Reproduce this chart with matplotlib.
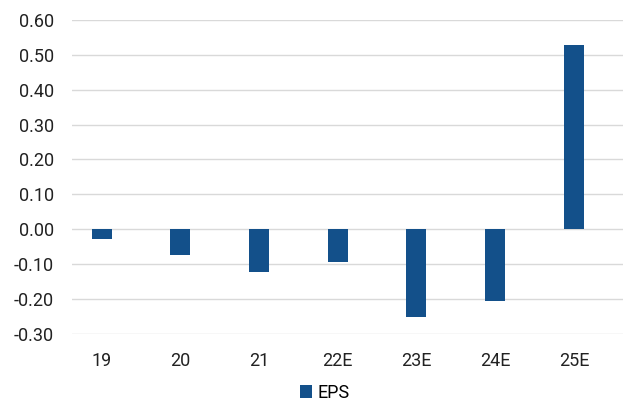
import matplotlib.pyplot as plt
import numpy as np
from matplotlib.patches import Patch

plt.rcParams['font.family'] = ['Roboto', 'DejaVu Sans']

categories = ["19", "20", "21", "22E", "23E", "24E", "25E"]
eps = [-0.028, -0.074, -0.123, -0.094, -0.252, -0.207, 0.528]
yticks = [-0.3, -0.2, -0.1, 0.0, 0.1, 0.2, 0.3, 0.4, 0.5, 0.6]

bar_color = "#13508A"

fig = plt.figure(figsize=(6.28, 4.03), dpi=100)
ax = fig.add_axes([0.1146, 0.172, 0.877, 0.7786])

x = np.arange(len(categories))
ax.bar(x, eps, width=0.254, color=bar_color, zorder=3)

ax.set_xlim(-0.377, 6.62)
ax.set_ylim(-0.3, 0.6)
ax.set_yticks(yticks)
ax.set_yticklabels([f"{v:.2f}" for v in yticks])
ax.set_xticks(x)
ax.set_xticklabels(categories)
ax.tick_params(axis='both', length=0, labelsize=13, colors="#222222")
ax.tick_params(axis='y', pad=13)
ax.tick_params(axis='x', pad=13)

ax.grid(axis='y', color="#D9D9D9", linewidth=1.0, zorder=0)
for s in ax.spines.values():
    s.set_visible(False)

handle = Patch(facecolor=bar_color, edgecolor='none')
fig.legend([handle], ["EPS"], loc='center', bbox_to_anchor=(0.517, 0.025),
           frameon=False, fontsize=13, handlelength=0.7, handleheight=0.7,
           handletextpad=0.3)

fig.savefig("out.png", dpi=100)
